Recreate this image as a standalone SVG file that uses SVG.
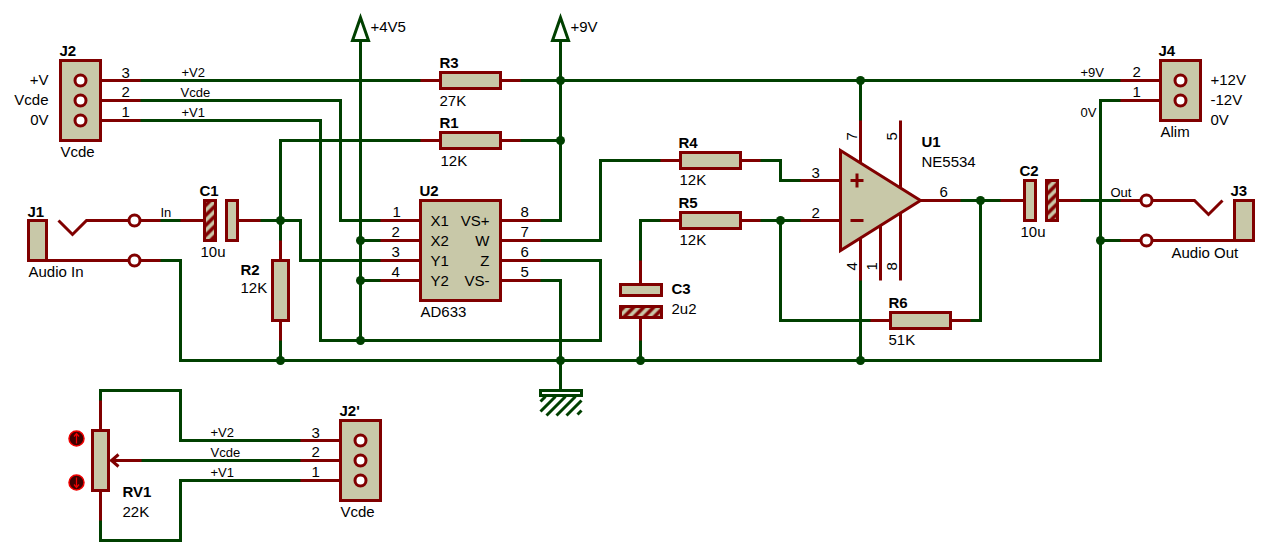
<svg xmlns="http://www.w3.org/2000/svg" width="1280" height="560" viewBox="0 0 1280 560">
<style>
text{font-family:"Liberation Sans",Arial,sans-serif;font-size:15px;fill:#000}
.b{font-weight:bold}
.s{font-size:13px}
.m{text-anchor:middle}
.e{text-anchor:end}
.w{fill:none;stroke:#004000;stroke-width:3;stroke-linejoin:miter;stroke-linecap:square}
.p{fill:none;stroke:#800000;stroke-width:3;stroke-linecap:butt}
.f{fill:#c8c8a8;stroke:#800000;stroke-width:3}
.h{fill:url(#hatch);stroke:#800000;stroke-width:3}
.c{fill:#fff;stroke:#800000;stroke-width:3}
.d{fill:#004000;stroke:none}
.g{fill:none;stroke:#004000;stroke-width:3}
.i{fill:#400000;stroke:#f00000;stroke-width:1.5}
.a{fill:none;stroke:#f00000;stroke-width:1.2}
</style>
<defs>
<pattern id="hatch" width="10" height="10" patternUnits="userSpaceOnUse">
<rect width="10" height="10" fill="#c8c8a8"/>
<path d="M-2 12L12 -2M-2 2L2 -2M8 12L12 8" stroke="#800000" stroke-width="3.5" fill="none"/>
</pattern>
</defs>
<rect width="1280" height="560" fill="#fff"/>
<g transform="translate(.5 .5)">
<g id="connectors">
<path class="w" d="M140 80H420M520 80H1120"/>
<path class="w" d="M140 100H340V220H380"/>
<path class="w" d="M140 120H320V340H600V260H540"/>
<path class="w" d="M420 140H280V240"/>
<path class="w" d="M520 140H560"/>
<path class="w" d="M160 220H180"/>
<path class="w" d="M260 220H300V260H380"/>
<path class="w" d="M160 260H180V360H1100V100H1120"/>
<path class="w" d="M280 340V360"/>
<path class="w" d="M360 40V340"/>
<path class="w" d="M360 240H380M360 280H380"/>
<path class="w" d="M560 40V220H540"/>
<path class="w" d="M540 240H600V160H660"/>
<path class="w" d="M540 280H560V390"/>
<path class="w" d="M760 160H780V180H800"/>
<path class="w" d="M640 260V220H660"/>
<path class="w" d="M760 220H800"/>
<path class="w" d="M780 220V320H870"/>
<path class="w" d="M970 320H980V200"/>
<path class="w" d="M960 200H1000"/>
<path class="w" d="M1080 200H1120"/>
<path class="w" d="M1100 240H1120"/>
<path class="w" d="M640 340V360"/>
<path class="w" d="M860 80V120"/>
<path class="w" d="M860 280V360"/>
<path class="w" d="M300 440H180V390H100V400"/>
<path class="w" d="M300 480H180V540H100V520"/>
<path class="w" d="M300 460H140"/>
<g class="dots">
<circle class="d" cx="280" cy="220" r="4.5"/><circle class="d" cx="280" cy="360" r="4.5"/>
<circle class="d" cx="360" cy="240" r="4.5"/><circle class="d" cx="360" cy="280" r="4.5"/><circle class="d" cx="360" cy="340" r="4.5"/>
<circle class="d" cx="560" cy="80" r="4.5"/><circle class="d" cx="560" cy="140" r="4.5"/><circle class="d" cx="560" cy="360" r="4.5"/>
<circle class="d" cx="640" cy="360" r="4.5"/><circle class="d" cx="780" cy="220" r="4.5"/>
<circle class="d" cx="860" cy="80" r="4.5"/><circle class="d" cx="860" cy="360" r="4.5"/>
<circle class="d" cx="980" cy="200" r="4.5"/><circle class="d" cx="1100" cy="240" r="4.5"/>
</g>
<text class="s" x="160" y="216">In</text>
<text class="s" x="181" y="76">+V2</text><text class="s" x="180" y="96">Vcde</text><text class="s" x="181" y="116">+V1</text>
<text class="s" x="1080" y="76">+9V</text><text class="s" x="1080" y="116">0V</text>
<text class="s" x="1110" y="196">Out</text>
<text class="s" x="210" y="436">+V2</text><text class="s" x="210" y="456">Vcde</text><text class="s" x="210" y="476">+V1</text>
</g>
<g id="J2">
<path class="p" d="M80 80H140M80 100H140M80 120H140"/>
<rect class="f" x="60" y="60" width="40" height="80"/>
<circle class="c" cx="80" cy="80" r="5.5"/><circle class="c" cx="80" cy="100" r="5.5"/><circle class="c" cx="80" cy="120" r="5.5"/>
<text class="b" x="59" y="55">J2</text>
<text x="60" y="156">Vcde</text>
<text class="e" x="48" y="84">+V</text><text class="e" x="48" y="104">Vcde</text><text class="e" x="48" y="124">0V</text>
<text x="121" y="77">3</text><text x="121" y="96">2</text><text x="121" y="116">1</text>
</g>
<g id="J1">
<path class="p" d="M58 220L72 234L86 220H160M46 260H160"/>
<rect class="f" x="28" y="220" width="18" height="40"/>
<circle class="c" cx="134" cy="220" r="5.5"/><circle class="c" cx="134" cy="260" r="5.5"/>
<text class="b" x="27" y="216">J1</text>
<text x="28" y="276">Audio In</text>
</g>
<g id="C1">
<path class="p" d="M180 220H204M237 220H260"/>
<rect class="h" x="204" y="200" width="11" height="40"/>
<rect class="f" x="226" y="200" width="11" height="40"/>
<text class="b" x="199" y="195">C1</text>
<text x="200" y="256">10u</text>
</g>
<g id="R2">
<path class="p" d="M280 240V260M280 320V340"/>
<rect class="f" x="272" y="260" width="16" height="60"/>
<text class="b" x="240" y="274">R2</text>
<text x="240" y="292">12K</text>
</g>
<g id="R3">
<path class="p" d="M420 80H440M500 80H520"/>
<rect class="f" x="440" y="72" width="60" height="16"/>
<text class="b" x="439" y="67">R3</text>
<text x="439" y="105">27K</text>
</g>
<g id="R1">
<path class="p" d="M420 140H440M500 140H520"/>
<rect class="f" x="440" y="132" width="60" height="16"/>
<text class="b" x="439" y="127">R1</text>
<text x="440" y="165">12K</text>
</g>
<g id="U2">
<path class="p" d="M380 220H420M380 240H420M380 260H420M380 280H420M500 220H540M500 240H540M500 260H540M500 280H540"/>
<rect class="f" x="420" y="200" width="80" height="100"/>
<text class="b" x="419" y="195">U2</text>
<text x="420" y="316">AD633</text>
<text x="430" y="225">X1</text><text x="430" y="245">X2</text><text x="430" y="265">Y1</text><text x="430" y="285">Y2</text>
<text class="e" x="489" y="225">VS+</text><text class="e" x="489" y="245">W</text><text class="e" x="489" y="265">Z</text><text class="e" x="489" y="285">VS-</text>
<text x="392" y="216">1</text><text x="391" y="236">2</text><text x="391" y="256">3</text><text x="391" y="276">4</text>
<text x="520" y="216">8</text><text x="520" y="236">7</text><text x="520" y="256">6</text><text x="520" y="276">5</text>
</g>
<g id="P4V5">
<path class="g" d="M360 17L352 40H368Z"/>
<text x="370" y="31">+4V5</text>
</g>
<g id="P9V">
<path class="g" d="M560 17L552 40H568Z"/>
<text x="570" y="31">+9V</text>
</g>
<g id="GND">
<rect class="g" x="540" y="390" width="41" height="5"/>
<path class="g" d="M540 401L545 396M540 411L555 396M546 415L565 396M556 415L575 396M566 415L581 400M577 414L581 410"/>
</g>
<g id="R4">
<path class="p" d="M660 160H680M740 160H760"/>
<rect class="f" x="680" y="152" width="60" height="16"/>
<text class="b" x="678" y="147">R4</text>
<text x="679" y="184">12K</text>
</g>
<g id="R5">
<path class="p" d="M660 220H680M740 220H760"/>
<rect class="f" x="680" y="212" width="60" height="16"/>
<text class="b" x="678" y="207">R5</text>
<text x="679" y="244">12K</text>
</g>
<g id="R6">
<path class="p" d="M870 320H890M950 320H970"/>
<rect class="f" x="890" y="312" width="60" height="16"/>
<text class="b" x="888" y="307">R6</text>
<text x="888" y="344">51K</text>
</g>
<g id="C3">
<path class="p" d="M640 260V284M640 317V340"/>
<rect class="f" x="620" y="284" width="41" height="11"/>
<rect class="h" x="620" y="306" width="41" height="11"/>
<text class="b" x="671" y="293">C3</text>
<text x="671" y="313">2u2</text>
</g>
<g id="U1">
<path class="p" d="M800 180H840M800 220H840M920 200H960M860 120V162M860 238V280M900 120V188M900 212V280M880 225V280"/>
<path class="f" d="M840 150L920 200L840 250Z"/>
<path class="p" d="M850 180H863M856.500 173V187M850 220H863"/>
<text class="b" x="921" y="146">U1</text>
<text x="921" y="166">NE5534</text>
<text x="811" y="177">3</text><text x="811" y="217">2</text><text x="939" y="196">6</text>
<text transform="translate(856 140) rotate(-90)">7</text>
<text transform="translate(896 140) rotate(-90)">5</text>
<text transform="translate(856 270) rotate(-90)">4</text>
<text transform="translate(876 270) rotate(-90)">1</text>
<text transform="translate(896 270) rotate(-90)">8</text>
</g>
<g id="C2">
<path class="p" d="M1000 200H1024M1057 200H1080"/>
<rect class="f" x="1024" y="180" width="11" height="40"/>
<rect class="h" x="1046" y="180" width="11" height="40"/>
<text class="b" x="1019" y="175">C2</text>
<text x="1020" y="236">10u</text>
</g>
<g id="J3">
<path class="p" d="M1120 200H1194L1208 214L1222 200M1120 240H1234"/>
<rect class="f" x="1234" y="200" width="19" height="40"/>
<circle class="c" cx="1146" cy="200" r="5.5"/><circle class="c" cx="1146" cy="240" r="5.500"/>
<text class="b" x="1230" y="195">J3</text>
<text x="1171" y="257">Audio Out</text>
</g>
<g id="J4">
<path class="p" d="M1120 80H1180M1120 100H1180"/>
<rect class="f" x="1160" y="60" width="40" height="60"/>
<circle class="c" cx="1180" cy="80" r="5.5"/><circle class="c" cx="1180" cy="100" r="5.5"/>
<text class="b" x="1158" y="55">J4</text>
<text x="1160" y="136">Alim</text>
<text x="1210" y="84">+12V</text><text x="1210" y="104">-12V</text><text x="1210" y="124">0V</text>
<text x="1132" y="76">2</text><text x="1132" y="96">1</text>
</g>
<g id="RV1">
<path class="p" d="M100 400V430M100 490V520"/>
<rect class="f" x="92" y="430" width="16" height="60"/>
<path class="p" d="M110 460H141M118 454L111 460L118 466"/>
<circle class="i" cx="76" cy="438" r="7.5"/><circle class="i" cx="76" cy="482" r="7.500"/>
<path class="a" d="M76 443V434M73.500 436L76 433L78.500 436M76 477V486M73.500 484L76 487L78.500 484"/>
<text class="b" x="122" y="496">RV1</text>
<text x="122" y="516">22K</text>
</g>
<g id="J2p">
<path class="p" d="M300 440H360M300 460H360M300 480H360"/>
<rect class="f" x="340" y="420" width="40" height="80"/>
<circle class="c" cx="360" cy="440" r="5.5"/><circle class="c" cx="360" cy="460" r="5.5"/><circle class="c" cx="360" cy="480" r="5.5"/>
<text class="b" x="339" y="415">J2'</text>
<text x="340" y="516">Vcde</text>
<text x="311" y="437">3</text><text x="311" y="456">2</text><text x="311" y="476">1</text>
</g>
</g>
</svg>
